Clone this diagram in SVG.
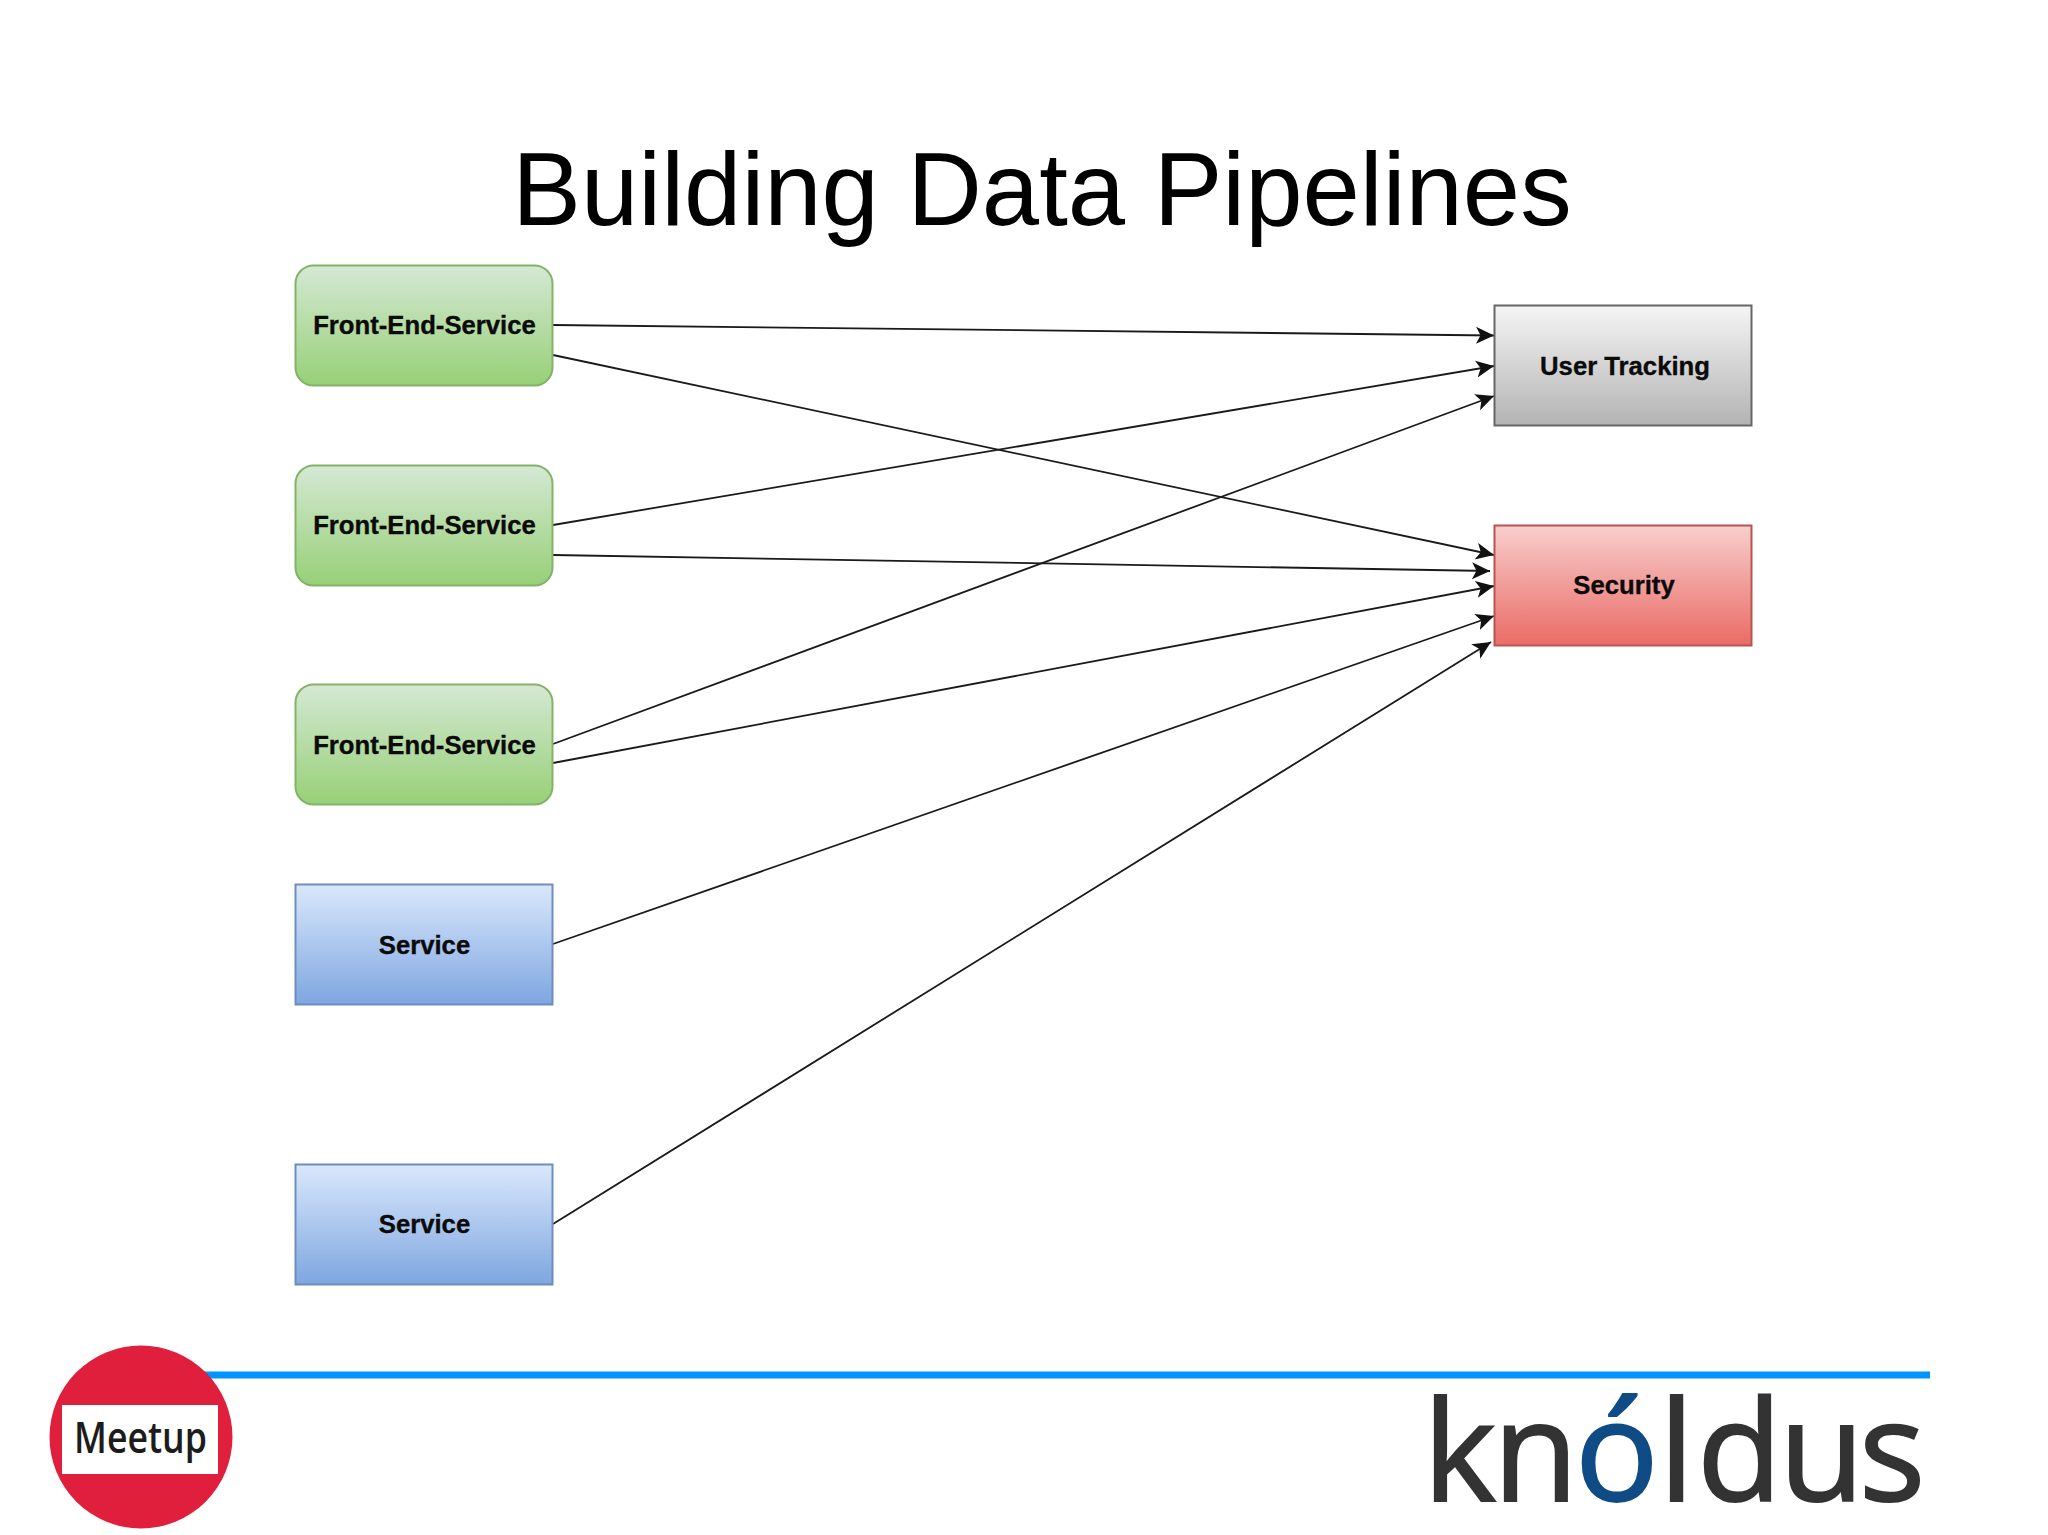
<svg xmlns="http://www.w3.org/2000/svg" width="2048" height="1535" viewBox="0 0 2048 1535">
<style>
.lbl{font:bold 25.7px "Liberation Sans",Arial,sans-serif;fill:#0b0b0b;stroke:#0b0b0b;stroke-width:.35;text-anchor:middle}
.edge{fill:none;stroke:#1a1a1a;stroke-width:1.8;marker-end:url(#arrow)}
.g{fill:url(#green);stroke:#82b366;stroke-width:2}
.b{fill:url(#blue);stroke:#6c8ebf;stroke-width:2}
</style>
<defs>
<linearGradient id="green" x1="0" y1="0" x2="0" y2="1"><stop offset="0" stop-color="#d5e8d4"/><stop offset="1" stop-color="#97d077"/></linearGradient>
<linearGradient id="blue" x1="0" y1="0" x2="0" y2="1"><stop offset="0" stop-color="#dae8fc"/><stop offset="1" stop-color="#7ea6e0"/></linearGradient>
<linearGradient id="gray" x1="0" y1="0" x2="0" y2="1"><stop offset="0" stop-color="#f5f5f5"/><stop offset="1" stop-color="#b3b3b3"/></linearGradient>
<linearGradient id="red" x1="0" y1="0" x2="0" y2="1"><stop offset="0" stop-color="#f8cecc"/><stop offset="1" stop-color="#ea6b66"/></linearGradient>
<marker id="arrow" markerUnits="userSpaceOnUse" markerWidth="20" markerHeight="20" refX="18" refY="10" orient="auto"><path d="M0,1.500 L18,10 L0,18.500 L4.500,10 Z" fill="#111"/></marker>
</defs>
<rect width="2048" height="1535" fill="#fff"/>
<text x="1042" y="225" font-family="'Liberation Sans',Arial,sans-serif" font-size="103" text-anchor="middle" fill="#000">Building Data Pipelines</text>
<g id="connectors">
<path class="edge" d="M553,325 L1494,335.500"/>
<path class="edge" d="M553,355 L1494,555"/>
<path class="edge" d="M553,525 L1494,366"/>
<path class="edge" d="M553,555 L1490,571"/>
<path class="edge" d="M553,744 L1494,396"/>
<path class="edge" d="M553,763 L1494,586"/>
<path class="edge" d="M553,944 L1494,616"/>
<path class="edge" d="M553,1224 L1491,642"/>
</g>
<g id="fes1"><rect class="g" x="295.500" y="265.500" width="257" height="120" rx="18"/><text class="lbl" x="424.500" y="334">Front-End-Service</text></g>
<g id="fes2"><rect class="g" x="295.500" y="465.500" width="257" height="120" rx="18"/><text class="lbl" x="424.500" y="534">Front-End-Service</text></g>
<g id="fes3"><rect class="g" x="295.500" y="684.500" width="257" height="120" rx="18"/><text class="lbl" x="424.500" y="754">Front-End-Service</text></g>
<g id="service1"><rect class="b" x="295.500" y="884.500" width="257" height="120"/><text class="lbl" x="424.500" y="954">Service</text></g>
<g id="service2"><rect class="b" x="295.500" y="1164.500" width="257" height="120"/><text class="lbl" x="424.500" y="1233">Service</text></g>
<g id="user-tracking"><rect x="1494.500" y="305.500" width="257" height="120" fill="url(#gray)" stroke="#666" stroke-width="2"/><text class="lbl" x="1625" y="375">User Tracking</text></g>
<g id="security"><rect x="1494.500" y="525.500" width="257" height="120" fill="url(#red)" stroke="#b85450" stroke-width="2"/><text class="lbl" x="1624" y="594">Security</text></g>
<rect x="200" y="1371.500" width="1730" height="7" fill="#0095ff"/>
<g id="meetup"><circle cx="141" cy="1437" r="91.500" fill="#e01f3d"/><rect x="62" y="1405" width="156" height="69" fill="#fff"/><text x="74" y="1453" font-family="'Open Sans',sans-serif" font-weight="600" font-size="44" textLength="133" lengthAdjust="spacingAndGlyphs" fill="#1c1c1c">Meetup</text></g>
<g id="knoldus"><text y="1501" font-family="'Open Sans',sans-serif" font-size="139" fill="#333" stroke="#333" stroke-width="2"><tspan x="1423 1493">kn</tspan><tspan x="1575" fill="#0f4c85" stroke="#0f4c85">ó</tspan><tspan x="1659 1697 1779 1859">ldus</tspan></text></g>
</svg>
